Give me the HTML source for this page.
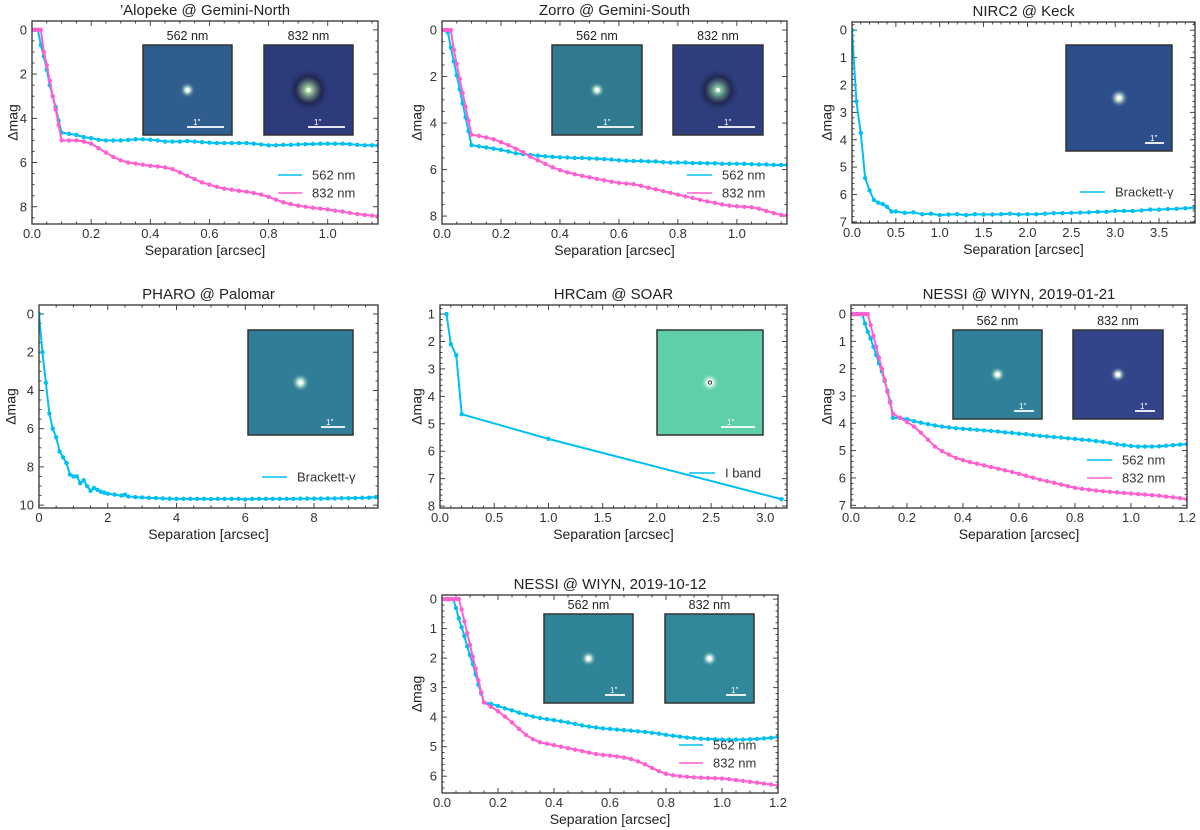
<!DOCTYPE html>
<html><head><meta charset="utf-8"><style>
body{margin:0;background:#fff;}
svg{display:block;font-family:"Liberation Sans",sans-serif;}
</style></head><body>
<svg id="fig" width="1200" height="830" viewBox="0 0 1200 830" xmlns="http://www.w3.org/2000/svg"></svg>
<script>
// ---------- DATA ----------
const gridA = [0,0.01,0.02,0.03,0.04,0.05,0.06,0.07,0.08,0.09,0.1,0.125,0.15,0.175,0.2,0.225,0.25,0.275,0.3,0.325,0.35,0.375,0.4,0.425,0.45,0.475,0.5,0.525,0.55,0.575,0.6,0.625,0.65,0.675,0.7,0.725,0.75,0.775,0.8,0.825,0.85,0.875,0.9,0.925,0.95,0.975,1.0,1.025,1.05,1.075,1.1,1.125,1.15,1.17];
const alopeke562 = [0,0,0,0.7,1.2,1.8,2.5,3.0,3.5,4.1,4.65,4.7,4.75,4.85,4.9,4.97,5.0,5.0,5.0,4.98,4.95,4.95,4.97,5.0,5.05,5.05,5.05,5.03,5.05,5.08,5.1,5.12,5.12,5.12,5.12,5.12,5.15,5.18,5.22,5.22,5.2,5.2,5.18,5.17,5.16,5.15,5.15,5.15,5.15,5.17,5.2,5.22,5.22,5.23];
const alopeke832 = [0,0,0,0,1.0,1.6,2.3,3.0,3.6,4.3,5.0,5.0,5.0,5.05,5.15,5.35,5.55,5.75,5.9,6.0,6.05,6.1,6.15,6.18,6.22,6.3,6.45,6.6,6.75,6.9,7.0,7.1,7.18,7.23,7.28,7.32,7.38,7.45,7.55,7.68,7.8,7.88,7.95,8.0,8.05,8.08,8.12,8.18,8.22,8.28,8.33,8.37,8.4,8.42];
const zorro562 = [0,0,0.1,0.75,1.35,1.95,2.55,3.15,3.75,4.35,4.95,5.0,5.05,5.1,5.15,5.22,5.3,5.33,5.37,5.4,5.43,5.45,5.47,5.48,5.5,5.5,5.52,5.53,5.55,5.57,5.6,5.62,5.63,5.63,5.65,5.65,5.68,5.7,5.7,5.7,5.72,5.72,5.73,5.73,5.75,5.75,5.75,5.75,5.77,5.78,5.78,5.8,5.8,5.8];
const zorro832 = [0,0,0,0,0.85,1.45,2.1,2.7,3.3,3.9,4.5,4.55,4.62,4.7,4.82,4.95,5.1,5.25,5.45,5.6,5.75,5.9,6.02,6.12,6.2,6.27,6.33,6.4,6.46,6.52,6.57,6.6,6.63,6.7,6.78,6.85,6.93,7.0,7.08,7.15,7.22,7.3,7.37,7.43,7.5,7.55,7.58,7.6,7.62,7.68,7.78,7.87,7.95,7.97];
const nircSep = [0,0.05,0.1,0.15,0.2,0.25,0.3,0.35,0.4,0.45,0.5,0.6,0.7,0.8,0.9,1.0,1.1,1.2,1.3,1.4,1.5,1.6,1.7,1.8,1.9,2.0,2.1,2.2,2.3,2.4,2.5,2.6,2.7,2.8,2.9,3.0,3.1,3.2,3.3,3.4,3.5,3.6,3.7,3.8,3.9];
const nircBrg = [0,2.6,3.75,5.4,5.85,6.2,6.3,6.35,6.45,6.62,6.62,6.67,6.65,6.72,6.7,6.75,6.73,6.72,6.75,6.72,6.73,6.73,6.72,6.7,6.73,6.72,6.72,6.7,6.68,6.68,6.67,6.66,6.65,6.63,6.63,6.6,6.6,6.6,6.58,6.55,6.55,6.53,6.52,6.5,6.48];
const pharoSep = [0,0.1,0.2,0.3,0.4,0.5,0.6,0.7,0.8,0.9,1.0,1.1,1.2,1.3,1.4,1.5,1.6,1.7,1.8,1.9,2.0,2.2,2.4,2.5,2.6,2.8,3.0,3.2,3.4,3.6,3.8,4.0,4.2,4.4,4.6,4.8,5.0,5.2,5.4,5.6,5.8,6.0,6.2,6.4,6.6,6.8,7.0,7.2,7.4,7.6,7.8,8.0,8.2,8.4,8.6,8.8,9.0,9.2,9.4,9.6,9.8];
const pharoBrg = [0,2.0,3.6,5.2,6.0,6.45,7.2,7.5,7.8,8.4,8.5,8.5,8.85,8.7,9.0,9.25,9.1,9.2,9.3,9.35,9.4,9.45,9.5,9.45,9.55,9.58,9.6,9.62,9.63,9.65,9.66,9.67,9.67,9.67,9.67,9.67,9.68,9.67,9.67,9.67,9.67,9.7,9.67,9.67,9.67,9.67,9.67,9.67,9.67,9.66,9.66,9.66,9.66,9.65,9.65,9.64,9.64,9.63,9.62,9.61,9.58];
const hrcamSep = [0.06,0.1,0.15,0.2,1.0,3.15];
const hrcamI = [1.0,2.1,2.5,4.65,5.55,7.75];
const gridN = [0,0.01,0.02,0.03,0.04,0.05,0.06,0.07,0.08,0.09,0.1,0.11,0.12,0.13,0.14,0.15,0.175,0.2,0.225,0.25,0.275,0.3,0.325,0.35,0.375,0.4,0.425,0.45,0.475,0.5,0.525,0.55,0.575,0.6,0.625,0.65,0.675,0.7,0.725,0.75,0.775,0.8,0.825,0.85,0.875,0.9,0.925,0.95,0.975,1.0,1.025,1.05,1.075,1.1,1.125,1.15,1.175,1.2];
const nessiA562 = [0,0,0,0,0,0.35,0.65,0.9,1.2,1.5,1.8,2.1,2.45,2.8,3.2,3.8,3.8,3.85,3.92,3.98,4.03,4.08,4.12,4.15,4.18,4.2,4.22,4.24,4.26,4.28,4.3,4.33,4.35,4.38,4.4,4.43,4.46,4.48,4.5,4.52,4.55,4.57,4.6,4.62,4.65,4.68,4.72,4.77,4.8,4.83,4.85,4.85,4.85,4.84,4.82,4.8,4.78,4.76];
const nessiA832 = [0,0,0,0,0,0,0,0.4,0.8,1.2,1.6,2.0,2.4,2.85,3.25,3.65,3.8,3.95,4.12,4.35,4.6,4.85,5.02,5.15,5.27,5.35,5.42,5.48,5.54,5.6,5.66,5.72,5.78,5.85,5.92,5.99,6.06,6.12,6.18,6.24,6.3,6.36,6.4,6.43,6.46,6.49,6.51,6.53,6.55,6.57,6.59,6.61,6.63,6.65,6.68,6.71,6.74,6.78];
const nessiB562 = [0,0,0,0,0,0.3,0.65,0.95,1.25,1.6,1.9,2.2,2.55,2.9,3.2,3.5,3.55,3.62,3.7,3.77,3.85,3.92,3.98,4.03,4.07,4.1,4.14,4.18,4.23,4.28,4.32,4.35,4.38,4.4,4.42,4.44,4.46,4.48,4.5,4.53,4.56,4.6,4.63,4.66,4.69,4.71,4.73,4.74,4.75,4.76,4.76,4.76,4.76,4.75,4.74,4.72,4.7,4.67];
const nessiB832 = [0,0,0,0,0,0,0,0.35,0.75,1.15,1.55,1.95,2.35,2.75,3.15,3.5,3.65,3.8,3.98,4.18,4.4,4.6,4.75,4.85,4.9,4.95,5.0,5.05,5.1,5.15,5.2,5.25,5.28,5.3,5.33,5.37,5.42,5.5,5.6,5.72,5.83,5.92,5.97,6.0,6.02,6.04,6.05,6.06,6.07,6.08,6.1,6.13,6.16,6.19,6.22,6.25,6.28,6.32];

const CY = "#00c0f2", PK = "#ff5fcf";
const NS = "http://www.w3.org/2000/svg";
const fig = document.getElementById('fig');
function mk(tag, attrs, parent, txt){
  const e = document.createElementNS(NS, tag);
  for (const k in attrs) e.setAttribute(k, attrs[k]);
  if (txt !== undefined) e.textContent = txt;
  (parent || fig).appendChild(e);
  return e;
}

const panels = [
 {id:'alopeke', title:"\u2019Alopeke @ Gemini-North", L:32,R:378,T:21,B:224, xmin:0,xmax:1.17,ymin:-0.4,ymax:8.78, xstep:0.2,xdec:1,ystep:2,ydec:0, ylx:14,
  series:[{x:gridA,y:alopeke562,c:CY,n:'562 nm'},{x:gridA,y:alopeke832,c:PK,n:'832 nm'}], leg:{x1:278,x2:302,y:175,dy:18},
  insets:[{x:143,y:45,w:89,h:90,bg:'#2f5d8e',spot:'#d8ffe0',lab:'562 nm',bar:37},{x:264,y:45,w:89,h:90,bg:'#2d3a7c',spot:'#c8ffb0',lab:'832 nm',bar:37,ring:true}]},
 {id:'zorro', title:"Zorro @ Gemini-South", L:442,R:787,T:21,B:224, xmin:0,xmax:1.17,ymin:-0.39,ymax:8.34, xstep:0.2,xdec:1,ystep:2,ydec:0, ylx:418,
  series:[{x:gridA,y:zorro562,c:CY,n:'562 nm'},{x:gridA,y:zorro832,c:PK,n:'832 nm'}], leg:{x1:687,x2:712,y:175,dy:18},
  insets:[{x:552,y:45,w:90,h:90,bg:'#2f7a8f',spot:'#e0ffe0',lab:'562 nm',bar:37},{x:673,y:45,w:90,h:90,bg:'#2e3d7e',spot:'#a0f0b0',lab:'832 nm',bar:37,ring:true}]},
 {id:'nirc2', title:"NIRC2 @ Keck", L:852,R:1195,T:22,B:223, xmin:0,xmax:3.91,ymin:-0.3,ymax:7.04, xstep:0.5,xdec:1,ystep:1,ydec:0, ylx:828,
  series:[{x:nircSep,y:nircBrg,c:CY,n:'Brackett-\u03B3'}], leg:{x1:1080,x2:1105,y:192,dy:18},
  insets:[{x:1066,y:45,w:106,h:106,bg:'#2c4f8c',spot:'#e8ffe0',bar:19}]},
 {id:'pharo', title:"PHARO @ Palomar", L:39,R:378,T:305,B:508, xmin:0,xmax:9.86,ymin:-0.47,ymax:10.15, xstep:2,xdec:0,ystep:2,ydec:0, ylx:12,
  series:[{x:pharoSep,y:pharoBrg,c:CY,n:'Brackett-\u03B3'}], leg:{x1:262,x2:287,y:477,dy:18},
  insets:[{x:248,y:330,w:105,h:105,bg:'#2f7d96',spot:'#e0ffe0',bar:24}]},
 {id:'hrcam', title:"HRCam @ SOAR", L:440,R:787,T:305,B:508, xmin:0,xmax:3.2,ymin:0.67,ymax:8.07, xstep:0.5,xdec:1,ystep:1,ydec:0, ylx:418,
  series:[{x:hrcamSep,y:hrcamI,c:CY,n:'I band'}], leg:{x1:689,x2:715,y:473,dy:18},
  insets:[{x:657,y:330,w:106,h:105,bg:'#5fcfa8',spot:'#ffffff',bar:34,dark:true}]},
 {id:'nessi-2019-01-21', title:"NESSI @ WIYN, 2019-01-21", L:851,R:1187,T:305,B:508, xmin:0,xmax:1.2,ymin:-0.33,ymax:7.1, xstep:0.2,xdec:1,ystep:1,ydec:0, ylx:828,
  series:[{x:gridN,y:nessiA562,c:CY,n:'562 nm'},{x:gridN,y:nessiA832,c:PK,n:'832 nm'}], leg:{x1:1087,x2:1112,y:460,dy:18},
  insets:[{x:953,y:330,w:89,h:89,bg:'#2f8098',spot:'#e8ffe0',lab:'562 nm',bar:20},{x:1073,y:330,w:90,h:89,bg:'#33448a',spot:'#e0ffe0',lab:'832 nm',bar:20}]},
 {id:'nessi-2019-10-12', title:"NESSI @ WIYN, 2019-10-12", L:442,R:778,T:595,B:793, xmin:0,xmax:1.2,ymin:-0.14,ymax:6.57, xstep:0.2,xdec:1,ystep:1,ydec:0, ylx:418,
  series:[{x:gridN,y:nessiB562,c:CY,n:'562 nm'},{x:gridN,y:nessiB832,c:PK,n:'832 nm'}], leg:{x1:679,x2:703,y:745,dy:18},
  insets:[{x:544,y:614,w:89,h:89,bg:'#2f8498',spot:'#e8ffe0',lab:'562 nm',bar:20},{x:665,y:614,w:89,h:89,bg:'#30889a',spot:'#f0fff0',lab:'832 nm',bar:20}]}
];

// radial gradients
const defs = mk('defs',{});
panels.forEach((p,pi)=>p.insets.forEach((ins,ii)=>{
  const g = mk('radialGradient',{id:'g'+pi+'_'+ii,cx:'50%',cy:'50%',r:'50%'},defs);
  mk('stop',{offset:'0%','stop-color':ins.spot},g);
  mk('stop',{offset:'6%','stop-color':ins.spot,'stop-opacity':'0.8'},g);
  mk('stop',{offset:ins.ring?'30%':'18%','stop-color':ins.ring?'#151830':ins.bg,'stop-opacity':ins.ring?'0.55':'0'},g);
  mk('stop',{offset:'50%','stop-color':ins.bg,'stop-opacity':'0'},g);
}));

panels.forEach((p,pi)=>{
  const g = mk('g',{});
  
  
  const sx = v => p.L + (v-p.xmin)/(p.xmax-p.xmin)*(p.R-p.L);
  const sy = v => p.T + (v-p.ymin)/(p.ymax-p.ymin)*(p.B-p.T);
  const clipId = 'clip'+pi;
  const cp = mk('clipPath',{id:clipId},defs);
  mk('rect',{x:p.L,y:p.T,width:p.R-p.L,height:p.B-p.T},cp);

  const t = mk('text',{x:(p.L+p.R)/2,y:p.T-6,'text-anchor':'middle','font-size':15,fill:'#222'},g,p.title);
  
  

  const tk = mk('g',{stroke:'#333','stroke-width':0.9},g);
  
  
  const minorN = s => (Math.abs(s/Math.pow(10,Math.floor(Math.log10(s))) - 2) < 1e-6) ? 4 : 5;
  const xm = p.xstep/minorN(p.xstep), ym = p.ystep/minorN(p.ystep);
  for (let v=Math.ceil(p.xmin/xm)*xm; v<=p.xmax+1e-9; v+=xm){
    const X = sx(v), major = Math.abs(v/p.xstep - Math.round(v/p.xstep))<1e-6, l = major?5:2.5;
    mk('line',{x1:X,x2:X,y1:p.B,y2:p.B-l},tk); mk('line',{x1:X,x2:X,y1:p.T,y2:p.T+l},tk);
    if (major){
      const tl = mk('text',{x:X,y:p.B+14,'text-anchor':'middle','font-size':13,fill:'#333',stroke:'none'},g,(Math.round(v/p.xstep)*p.xstep).toFixed(p.xdec));
      
      
    }
  }
  for (let v=Math.ceil(p.ymin/ym)*ym; v<=p.ymax+1e-9; v+=ym){
    const Y = sy(v), major = Math.abs(v/p.ystep - Math.round(v/p.ystep))<1e-6, l = major?5:2.5;
    mk('line',{x1:p.L,x2:p.L+l,y1:Y,y2:Y},tk); mk('line',{x1:p.R,x2:p.R-l,y1:Y,y2:Y},tk);
    if (major){
      const tl = mk('text',{x:p.L-5,y:Y+4.5,'text-anchor':'end','font-size':13,fill:'#333'},g,(Math.round(v/p.ystep)*p.ystep).toFixed(p.ydec));
      
      
    }
  }
  const xl = mk('text',{x:(p.L+p.R)/2,y:p.B+31,'text-anchor':'middle','font-size':14,fill:'#222'},g,'Separation [arcsec]');
  
  
  const ycy = (p.T+p.B)/2;
  const yl = mk('text',{x:p.ylx,y:ycy,'text-anchor':'middle','font-size':14,fill:'#222',transform:`rotate(-90 ${p.ylx} ${ycy})`,'dominant-baseline':'middle'},g,'\u0394mag');
  
  

  p.insets.forEach((ins,ii)=>{
    const ig = mk('g',{},g);
    
    
    mk('rect',{x:ins.x,y:ins.y,width:ins.w,height:ins.h,fill:ins.bg},ig);
    mk('rect',{x:ins.x,y:ins.y,width:ins.w,height:ins.h,fill:`url(#g${pi}_${ii})`},ig);
    const cx = ins.x+ins.w/2, cyy = ins.y+ins.h/2;
    mk('circle',{cx:cx,cy:cyy,r:2,fill:ins.dark?'#000':'#fff'},ig);
    if (ins.dark){ mk('circle',{cx:cx,cy:cyy,r:1.3,fill:'#fff'},ig); }
    mk('rect',{x:ins.x,y:ins.y,width:ins.w,height:ins.h,fill:'none',stroke:'#333','stroke-width':1.5},ig);
    const bx2 = ins.x+ins.w-8, by = ins.y+ins.h-8;
    mk('line',{x1:bx2-ins.bar,x2:bx2,y1:by,y2:by,stroke:'#fff','stroke-width':1.8},ig);
    mk('text',{x:bx2-ins.bar+ (ins.bar>25?6:5),y:by-2,'font-size':8,fill:'#fff'},ig,'1\u2033');
    if (ins.lab){
      const lt = mk('text',{x:ins.x+ins.w/2,y:ins.y-5,'text-anchor':'middle','font-size':12.5,fill:'#222'},ig,ins.lab);
      
      
    }
  });

  p.series.forEach(s=>{
    const sg = mk('g',{'clip-path':`url(#${clipId})`},g);
    
    
    const pts = s.x.map((x,i)=>sx(x).toFixed(2)+','+sy(s.y[i]).toFixed(2)).join(' ');
    mk('polyline',{points:pts,fill:'none',stroke:s.c,'stroke-width':2.0},sg);
    s.x.forEach((x,i)=>{
      const c = mk('circle',{cx:sx(x),cy:sy(s.y[i]),r:2.2,fill:s.c},sg);
      
      
    });
  });

  mk('rect',{x:p.L,y:p.T,width:p.R-p.L,height:p.B-p.T,fill:'none',stroke:'#333','stroke-width':1.3},g);

  p.series.forEach((s,i)=>{
    const lg = mk('g',{},g);
    
    
    const Y = p.leg.y + i*p.leg.dy;
    mk('line',{x1:p.leg.x1,x2:p.leg.x2,y1:Y,y2:Y,stroke:s.c,'stroke-width':1.6},lg);
    mk('text',{x:p.leg.x2+10,y:Y+4.5,'font-size':13,fill:'#333'},lg,s.n);
  });
});
</script>
</body></html>
